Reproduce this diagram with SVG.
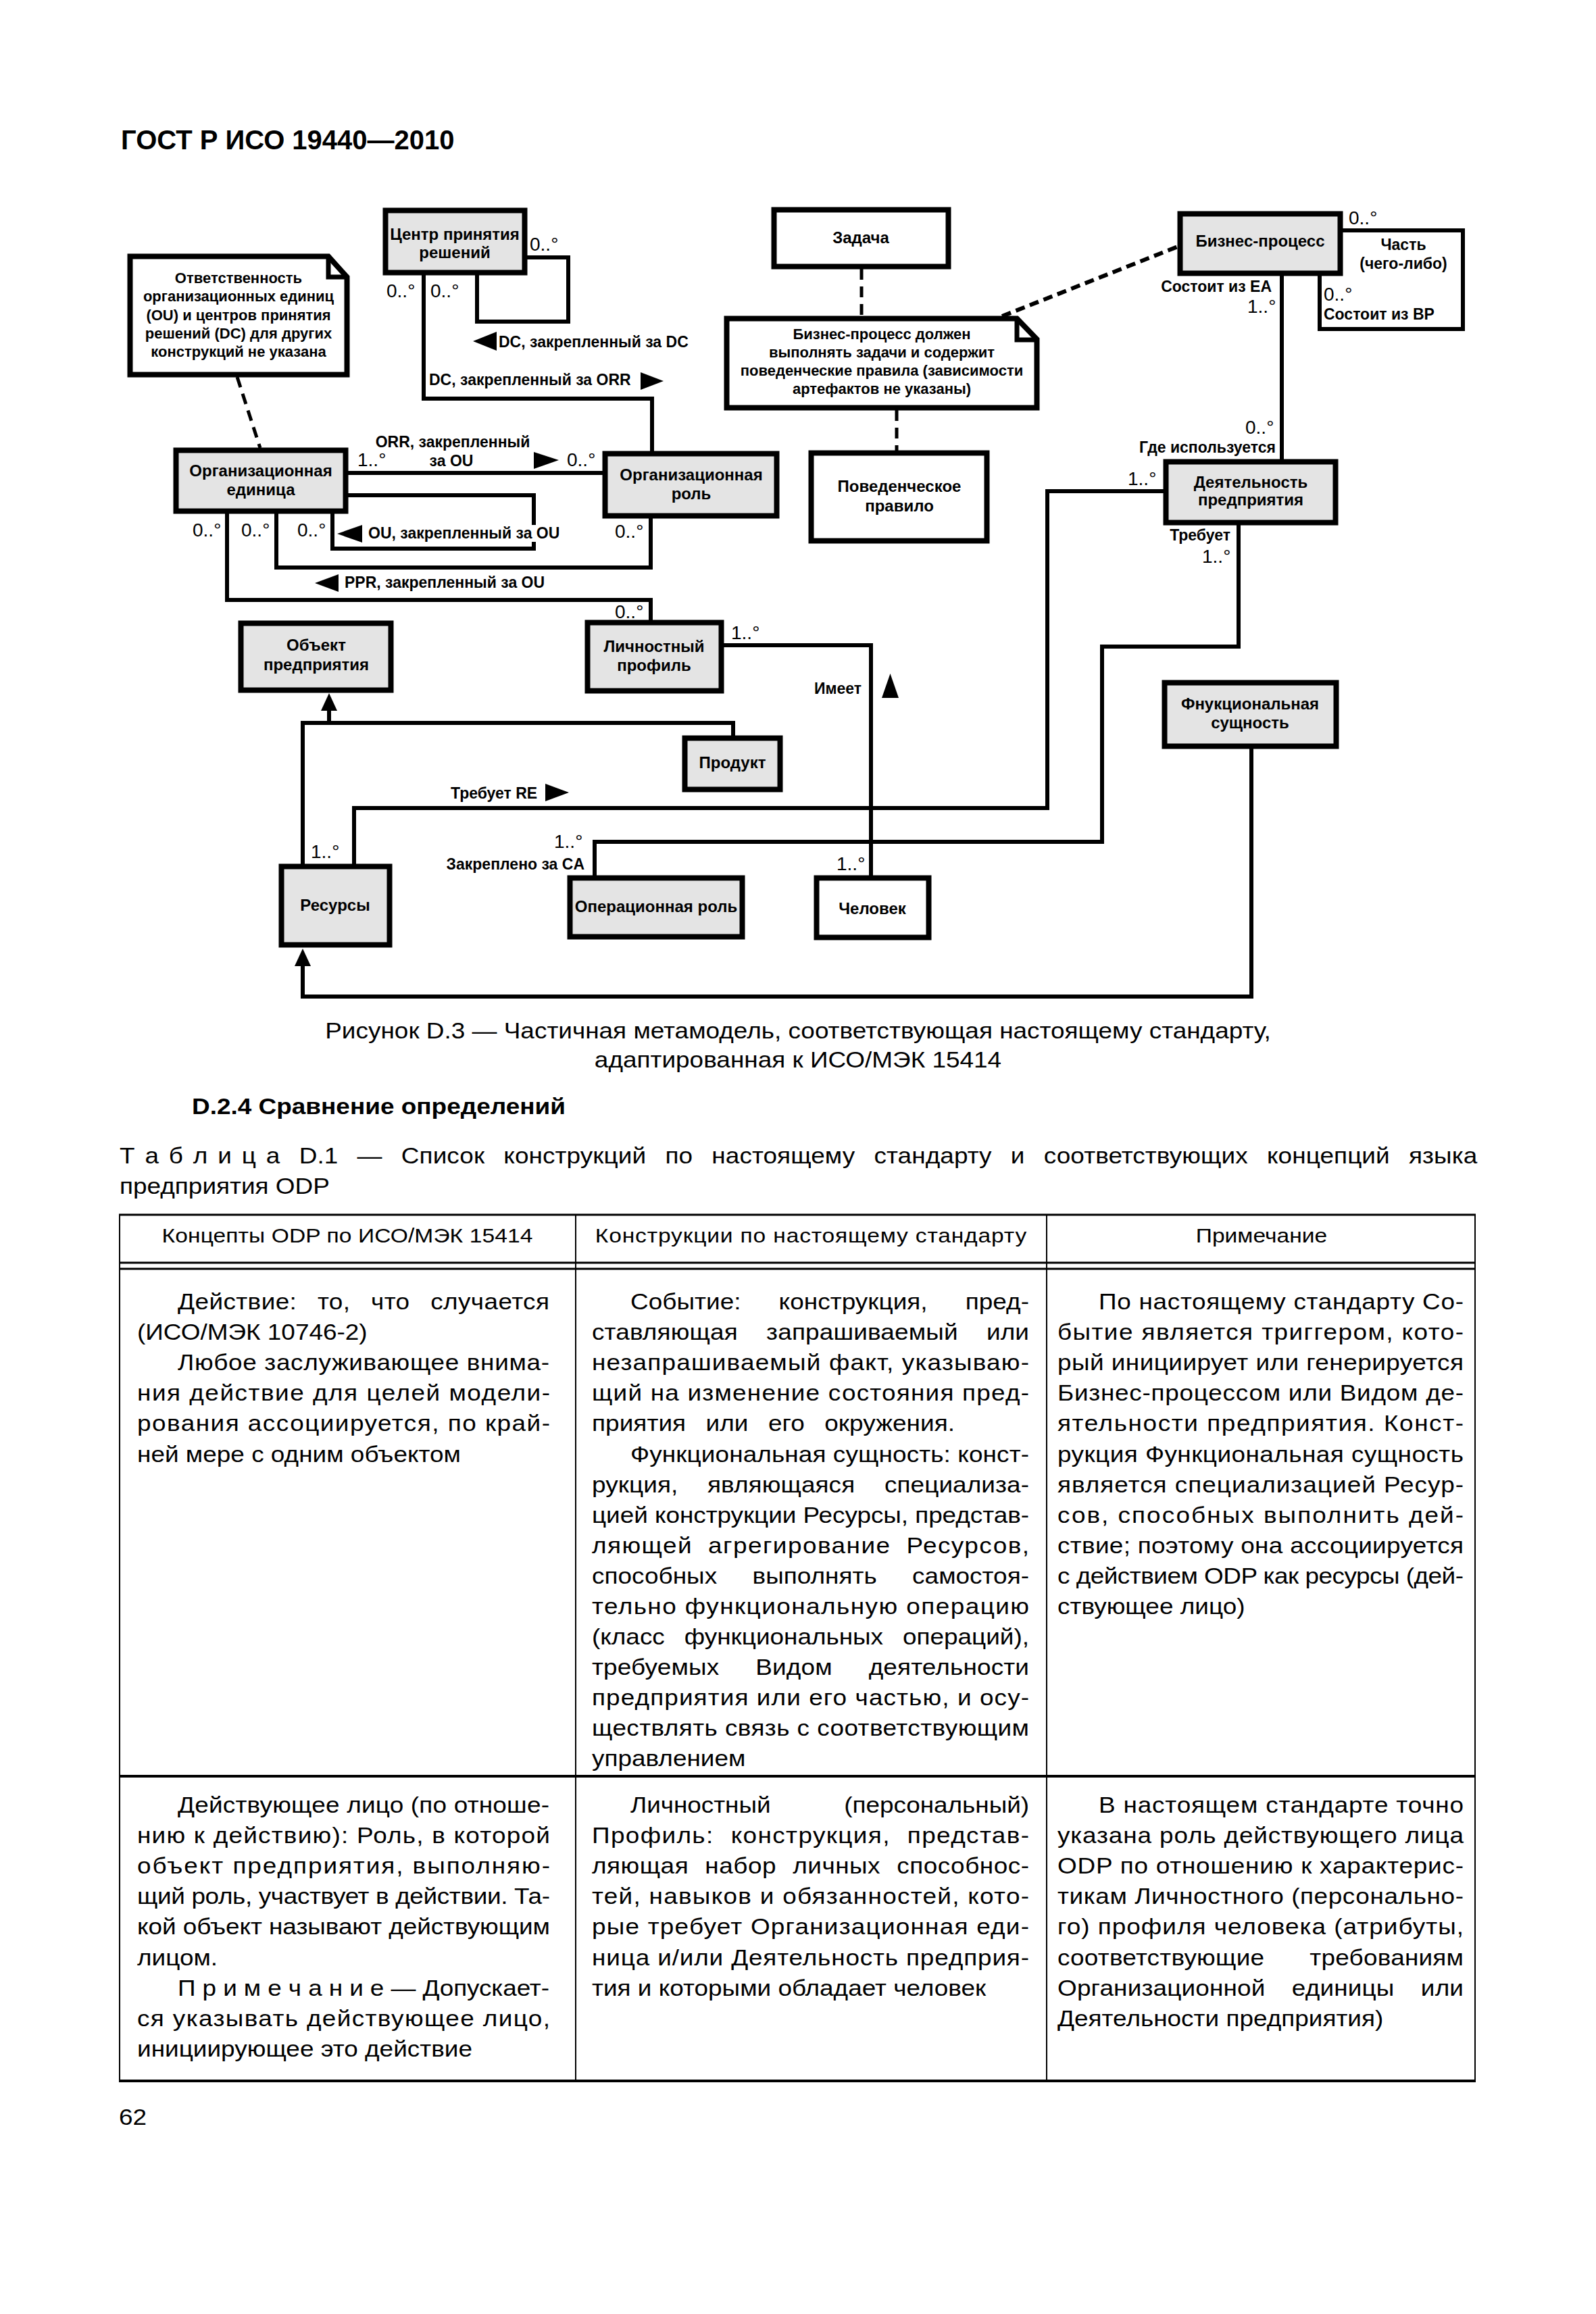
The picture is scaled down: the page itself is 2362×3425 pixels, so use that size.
<svg xmlns="http://www.w3.org/2000/svg" width="2362" height="3425" viewBox="0 0 2362 3425">
<defs>
<style>
.box{fill:#e4e4e4;stroke:#000;stroke-width:8}
.wbox{fill:#fff;stroke:#000;stroke-width:8}
.ln{fill:none;stroke:#000;stroke-width:6;stroke-linejoin:miter}
.dash{fill:none;stroke:#000;stroke-width:5;stroke-dasharray:16 10}
.dash2{fill:none;stroke:#000;stroke-width:6;stroke-dasharray:14 8}
.tri{fill:#000}
.nt{font-family:"Liberation Sans",Arial,sans-serif;font-weight:bold;font-size:24px;text-anchor:middle;fill:#000}
.nn{font-family:"Liberation Sans",Arial,sans-serif;font-weight:bold;font-size:22px;text-anchor:middle;fill:#000}
.lb{font-family:"Liberation Sans",Arial,sans-serif;font-weight:bold;font-size:23px;fill:#000}
.m{font-family:"Liberation Sans",Arial,sans-serif;font-size:28px;fill:#000}
.body{font-family:"Liberation Sans",Arial,sans-serif;font-size:33px;fill:#000}
.hd{font-family:"Liberation Sans",Arial,sans-serif;font-size:30px;fill:#000;text-anchor:middle}
.tl{stroke:#000;fill:none}
</style>
<marker id="gen" markerUnits="userSpaceOnUse" markerWidth="26" markerHeight="24" viewBox="0 0 26 24" refX="0" refY="12" orient="auto">
<path d="M0,0 L26,12 L0,24 Z" fill="#000"/>
</marker>
</defs>
<rect x="0" y="0" width="2362" height="3425" fill="#fff"/>

<text x="179" y="221" font-family="Liberation Sans, Arial, sans-serif" font-weight="bold" font-size="40">ГОСТ Р ИСО 19440—2010</text>

<g id="connectors">
<path class="ln" d="M780 381 H841 V476 H706 V407"/>
<path class="ln" d="M627 407 V590 H965 V668"/>
<path class="ln" d="M515 700 H892"/>
<path class="ln" d="M515 733 H790 V777 M790 802 V812 H492 V760"/>
<path class="ln" d="M409 760 V840 H963 V767"/>
<path class="ln" d="M336 760 V888 H963 V918"/>
<path class="ln" d="M1071 955 H1289 V1296"/>
<path class="ln" d="M448 1279 V1070 H1085 V1089"/>
<path class="ln" marker-end="url(#gen)" d="M487 1070 V1052"/>
<path class="ln" d="M524 1279 V1196 H1550 V727 H1722"/>
<path class="ln" d="M880 1296 V1246 H1631 V957 H1833 V777"/>
<path class="ln" marker-end="url(#gen)" d="M1852 1108 V1475 H448 V1430"/>
<path class="ln" d="M1897 408 V680"/>
<path class="ln" d="M1987 341 H2165 V487 H1953 V408"/>
<path class="dash" d="M351 558 L385 663"/>
<path class="dash" d="M1275 398 V468"/>
<path class="dash" d="M1327 607 V667"/>
<path class="dash2" d="M1483 468 L1743 365"/>
<polygon class="tri" points="700,505 735,491 735,519"/>
<polygon class="tri" points="948,551 982,564 948,577"/>
<polygon class="tri" points="790,669 827,681 790,694"/>
<polygon class="tri" points="499,790 536,777 536,803"/>
<polygon class="tri" points="466,863 501,850 501,876"/>
<polygon class="tri" points="807,1160 842,1173 807,1186"/>
<polygon class="tri" points="1317.5,997 1330,1033 1305,1033"/>
<text class="lb" x="738" y="514">DC, закрепленный за DC</text>
<text class="lb" x="635" y="570">DC, закрепленный за ORR</text>
<text class="lb" x="670" y="662" text-anchor="middle">ORR, закрепленный</text>
<text class="lb" x="668" y="690" text-anchor="middle">за OU</text>
<text class="lb" x="545" y="797">OU, закрепленный за OU</text>
<text class="lb" x="510" y="870">PPR, закрепленный за OU</text>
<text class="lb" x="667" y="1182">Требует RE</text>
<text class="lb" x="865" y="1287" text-anchor="end">Закреплено за CA</text>
<text class="lb" x="1205" y="1027">Имеет</text>
<text class="lb" x="1888" y="670" text-anchor="end">Где используется</text>
<text class="lb" x="1821" y="800" text-anchor="end">Требует</text>
<text class="lb" x="1882" y="432" text-anchor="end">Состоит из EA</text>
<text class="lb" x="2077" y="370" text-anchor="middle">Часть</text>
<text class="lb" x="2077" y="398" text-anchor="middle">(чего-либо)</text>
<text class="lb" x="1959" y="473">Состоит из BP</text>
<text class="m" x="784" y="371">0..°</text>
<text class="m" x="572" y="440">0..°</text>
<text class="m" x="637" y="440">0..°</text>
<text class="m" x="529" y="690">1..°</text>
<text class="m" x="839" y="690">0..°</text>
<text class="m" x="285" y="794">0..°</text>
<text class="m" x="357" y="794">0..°</text>
<text class="m" x="440" y="794">0..°</text>
<text class="m" x="910" y="796">0..°</text>
<text class="m" x="910" y="915">0..°</text>
<text class="m" x="1082" y="946">1..°</text>
<text class="m" x="1238" y="1288">1..°</text>
<text class="m" x="460" y="1270">1..°</text>
<text class="m" x="820" y="1255">1..°</text>
<text class="m" x="1669" y="718">1..°</text>
<text class="m" x="1843" y="642">0..°</text>
<text class="m" x="1779" y="833">1..°</text>
<text class="m" x="1846" y="463">1..°</text>
<text class="m" x="1996" y="332">0..°</text>
<text class="m" x="1959" y="445">0..°</text>
</g>

<g id="node-dc">
<rect class="box" x="570.5" y="311.5" width="206" height="92"/>
<text class="nt" x="673" y="355">Центр принятия</text>
<text class="nt" x="673" y="382">решений</text>
</g>
<g id="note-ou">
<path class="wbox" d="M192.5 379.5 H486 L513.5 410 V554.5 H192.5 Z"/>
<path class="ln" style="stroke-width:7" d="M486 379.5 V410 H513.5"/>
<text class="nn" x="353" y="419">Ответственность</text>
<text class="nn" x="353" y="446">организационных единиц</text>
<text class="nn" x="353" y="474">(OU) и центров принятия</text>
<text class="nn" x="353" y="501">решений (DC) для других</text>
<text class="nn" x="353" y="528">конструкций не указана</text>
</g>
<g id="node-ou">
<rect class="box" x="260.5" y="666.5" width="251" height="90"/>
<text class="nt" x="386" y="705">Организационная</text>
<text class="nt" x="386" y="733">единица</text>
</g>
<g id="node-role">
<rect class="box" x="895.5" y="671.5" width="254" height="92"/>
<text class="nt" x="1023" y="711">Организационная</text>
<text class="nt" x="1023" y="739">роль</text>
</g>
<g id="node-task">
<rect class="wbox" x="1145.5" y="310.5" width="258" height="84"/>
<text class="nt" x="1274" y="360">Задача</text>
</g>
<g id="note-bp">
<path class="wbox" d="M1075.5 471.5 H1505 L1534.5 502 V603.5 H1075.5 Z"/>
<path class="ln" style="stroke-width:7" d="M1505 471.5 V503 H1534.5"/>
<text class="nn" x="1305" y="502">Бизнес-процесс должен</text>
<text class="nn" x="1305" y="529">выполнять задачи и содержит</text>
<text class="nn" x="1305" y="556">поведенческие правила (зависимости</text>
<text class="nn" x="1305" y="583">артефактов не указаны)</text>
</g>
<g id="node-rule">
<rect class="wbox" x="1200.5" y="670.5" width="260" height="130"/>
<text class="nt" x="1331" y="728">Поведенческое</text>
<text class="nt" x="1331" y="757">правило</text>
</g>
<g id="node-bp">
<rect class="box" x="1746.5" y="316.5" width="237" height="88"/>
<text class="nt" x="1865" y="365">Бизнес-процесс</text>
</g>
<g id="node-activity">
<rect class="box" x="1725.5" y="683.5" width="251" height="90"/>
<text class="nt" x="1851" y="722">Деятельность</text>
<text class="nt" x="1851" y="748">предприятия</text>
</g>
<g id="node-object">
<rect class="box" x="356.5" y="922.5" width="222" height="99"/>
<text class="nt" x="468" y="963">Объект</text>
<text class="nt" x="468" y="992">предприятия</text>
</g>
<g id="node-profile">
<rect class="box" x="869.5" y="921.5" width="198" height="101"/>
<text class="nt" x="968" y="965">Личностный</text>
<text class="nt" x="968" y="993">профиль</text>
</g>
<g id="node-functional">
<rect class="box" x="1723.5" y="1010.5" width="254" height="94"/>
<text class="nt" x="1850" y="1050">Фнукциональная</text>
<text class="nt" x="1850" y="1078">сущность</text>
</g>
<g id="node-product">
<rect class="box" x="1013.5" y="1092.5" width="141" height="76"/>
<text class="nt" x="1084" y="1137">Продукт</text>
</g>
<g id="node-resources">
<rect class="box" x="416.5" y="1282.5" width="160" height="116"/>
<text class="nt" x="496" y="1348">Ресурсы</text>
</g>
<g id="node-oprole">
<rect class="box" x="843.5" y="1299.5" width="255" height="87"/>
<text class="nt" x="971" y="1350">Операционная роль</text>
</g>
<g id="node-person">
<rect class="wbox" x="1208.5" y="1299.5" width="166" height="88"/>
<text class="nt" x="1291" y="1353">Человек</text>
</g>

<g id="caption" class="body">
<g transform="translate(1181 0) scale(1.12 1)">
<text x="0" y="1537" text-anchor="middle">Рисунок D.3 — Частичная метамодель, соответствующая настоящему стандарту,</text>
<text x="0" y="1580" text-anchor="middle">адаптированная к ИСО/МЭК 15414</text>
</g>
<g transform="translate(284 0) scale(1.12 1)">
<text x="0" y="1649" font-weight="bold">D.2.4 Сравнение определений</text>
</g>
<g transform="translate(177 0) scale(1.12 1)">
<text x="0" y="1722" textLength="1794" lengthAdjust="spacing"><tspan word-spacing="4">Т а б л и ц а</tspan><tspan word-spacing="16"> D.1 — Список конструкций по настоящему стандарту и соответствующих концепций языка</tspan></text>
<text x="0" y="1767">предприятия ODP</text>
</g>
</g>

<g id="table">
<line class="tl" stroke-width="3" x1="176" y1="1798" x2="2184" y2="1798"/>
<line class="tl" stroke-width="3" x1="176" y1="1869" x2="2184" y2="1869"/>
<line class="tl" stroke-width="3" x1="176" y1="1878" x2="2184" y2="1878"/>
<line class="tl" stroke-width="4" x1="176" y1="2629" x2="2184" y2="2629"/>
<line class="tl" stroke-width="4" x1="176" y1="3080" x2="2184" y2="3080"/>
<line class="tl" stroke-width="2" x1="177" y1="1797" x2="177" y2="3081"/>
<line class="tl" stroke-width="2" x1="852" y1="1797" x2="852" y2="3081"/>
<line class="tl" stroke-width="2" x1="1549" y1="1797" x2="1549" y2="3081"/>
<line class="tl" stroke-width="2" x1="2183" y1="1797" x2="2183" y2="3081"/>
<g transform="translate(514 0) scale(1.12 1)"><text class="hd" x="0" y="1839" textLength="490" lengthAdjust="spacing">Концепты ODP по ИСО/МЭК 15414</text></g>
<g transform="translate(1200 0) scale(1.12 1)"><text class="hd" x="0" y="1839" textLength="570" lengthAdjust="spacing">Конструкции по настоящему стандарту</text></g>
<g transform="translate(1867 0) scale(1.12 1)"><text class="hd" x="0" y="1839">Примечание</text></g>

<g class="body" transform="translate(203 0) scale(1.12 1)">
<text x="53.6" y="1938" word-spacing="17.8" textLength="491" lengthAdjust="spacing">Действие: то, что случается</text>
<text x="0" y="1983">(ИСО/МЭК 10746-2)</text>
<text x="53.6" y="2028" textLength="491" lengthAdjust="spacing">Любое заслуживающее внима-</text>
<text x="0" y="2073" textLength="545.5" lengthAdjust="spacing">ния действие для целей модели-</text>
<text x="0" y="2118" textLength="545.5" lengthAdjust="spacing">рования ассоциируется, по край-</text>
<text x="0" y="2164">ней мере с одним объектом</text>
<text x="53.6" y="2683" textLength="491" lengthAdjust="spacing">Действующее лицо (по отноше-</text>
<text x="0" y="2728" textLength="545.5" lengthAdjust="spacing">нию к действию): Роль, в которой</text>
<text x="0" y="2773" textLength="545.5" lengthAdjust="spacing">объект предприятия, выполняю-</text>
<text x="0" y="2818" textLength="545.5" lengthAdjust="spacing">щий роль, участвует в действии. Та-</text>
<text x="0" y="2863" textLength="545.5" lengthAdjust="spacing">кой объект называют действующим</text>
<text x="0" y="2909">лицом.</text>
<text x="53.6" y="2954" textLength="491" lengthAdjust="spacing">П р и м е ч а н и е — Допускает-</text>
<text x="0" y="2999" textLength="545.5" lengthAdjust="spacing">ся указывать действующее лицо,</text>
<text x="0" y="3044">инициирующее это действие</text>
</g>

<g class="body" transform="translate(876 0) scale(1.12 1)">
<text x="50.9" y="1938" word-spacing="40.9" textLength="526.8" lengthAdjust="spacing">Событие: конструкция, пред-</text>
<text x="0" y="1983" word-spacing="28.4" textLength="577.7" lengthAdjust="spacing">ставляющая запрашиваемый или</text>
<text x="0" y="2028" textLength="577.7" lengthAdjust="spacing">незапрашиваемый факт, указываю-</text>
<text x="0" y="2073" textLength="577.7" lengthAdjust="spacing">щий на изменение состояния пред-</text>
<text x="0" y="2118" word-spacing="17" textLength="479.5" lengthAdjust="spacing">приятия или его окружения.</text>
<text x="50.9" y="2164" textLength="526.8" lengthAdjust="spacing">Функциональная сущность: конст-</text>
<text x="0" y="2209" word-spacing="29.8" textLength="577.7" lengthAdjust="spacing">рукция, являющаяся специализа-</text>
<text x="0" y="2254" textLength="577.7" lengthAdjust="spacing">цией конструкции Ресурсы, представ-</text>
<text x="0" y="2299" word-spacing="10" textLength="577.7" lengthAdjust="spacing">ляющей агрегирование Ресурсов,</text>
<text x="0" y="2344" word-spacing="37.6" textLength="577.7" lengthAdjust="spacing">способных выполнять самостоя-</text>
<text x="0" y="2389" textLength="577.7" lengthAdjust="spacing">тельно функциональную операцию</text>
<text x="0" y="2434" word-spacing="16.8" textLength="577.7" lengthAdjust="spacing">(класс функциональных операций),</text>
<text x="0" y="2479" word-spacing="38.8" textLength="577.7" lengthAdjust="spacing">требуемых Видом деятельности</text>
<text x="0" y="2524" textLength="577.7" lengthAdjust="spacing">предприятия или его частью, и осу-</text>
<text x="0" y="2569" textLength="577.7" lengthAdjust="spacing">ществлять связь с соответствующим</text>
<text x="0" y="2614">управлением</text>
<text x="50.9" y="2683" word-spacing="88" textLength="526.8" lengthAdjust="spacing">Личностный (персональный)</text>
<text x="0" y="2728" word-spacing="12" textLength="577.7" lengthAdjust="spacing">Профиль: конструкция, представ-</text>
<text x="0" y="2773" word-spacing="12" textLength="577.7" lengthAdjust="spacing">ляющая набор личных способнос-</text>
<text x="0" y="2818" textLength="577.7" lengthAdjust="spacing">тей, навыков и обязанностей, кото-</text>
<text x="0" y="2863" textLength="577.7" lengthAdjust="spacing">рые требует Организационная еди-</text>
<text x="0" y="2909" textLength="577.7" lengthAdjust="spacing">ница и/или Деятельность предприя-</text>
<text x="0" y="2954">тия и которыми обладает человек</text>
</g>

<g class="body" transform="translate(1565 0) scale(1.12 1)">
<text x="54.5" y="1938" textLength="482.1" lengthAdjust="spacing">По настоящему стандарту Со-</text>
<text x="0" y="1983" textLength="536.6" lengthAdjust="spacing">бытие является триггером, кото-</text>
<text x="0" y="2028" textLength="536.6" lengthAdjust="spacing">рый инициирует или генерируется</text>
<text x="0" y="2073" textLength="536.6" lengthAdjust="spacing">Бизнес-процессом или Видом де-</text>
<text x="0" y="2118" textLength="536.6" lengthAdjust="spacing">ятельности предприятия. Конст-</text>
<text x="0" y="2164" textLength="536.6" lengthAdjust="spacing">рукция Функциональная сущность</text>
<text x="0" y="2209" textLength="536.6" lengthAdjust="spacing">является специализацией Ресур-</text>
<text x="0" y="2254" textLength="536.6" lengthAdjust="spacing">сов, способных выполнить дей-</text>
<text x="0" y="2299" textLength="536.6" lengthAdjust="spacing">ствие; поэтому она ассоциируется</text>
<text x="0" y="2344" textLength="536.6" lengthAdjust="spacing">с действием ODP как ресурсы (дей-</text>
<text x="0" y="2389">ствующее лицо)</text>
<text x="54.5" y="2683" textLength="482.1" lengthAdjust="spacing">В настоящем стандарте точно</text>
<text x="0" y="2728" textLength="536.6" lengthAdjust="spacing">указана роль действующего лица</text>
<text x="0" y="2773" textLength="536.6" lengthAdjust="spacing">ODP по отношению к характерис-</text>
<text x="0" y="2818" textLength="536.6" lengthAdjust="spacing">тикам Личностного (персонально-</text>
<text x="0" y="2863" textLength="536.6" lengthAdjust="spacing">го) профиля человека (атрибуты,</text>
<text x="0" y="2909" word-spacing="50.6" textLength="536.6" lengthAdjust="spacing">соответствующие требованиям</text>
<text x="0" y="2954" word-spacing="25.8" textLength="536.6" lengthAdjust="spacing">Организационной единицы или</text>
<text x="0" y="2999">Деятельности предприятия)</text>
</g>
</g>

<g class="body" transform="translate(176 0) scale(1.12 1)"><text x="0" y="3145">62</text></g>
</svg>
